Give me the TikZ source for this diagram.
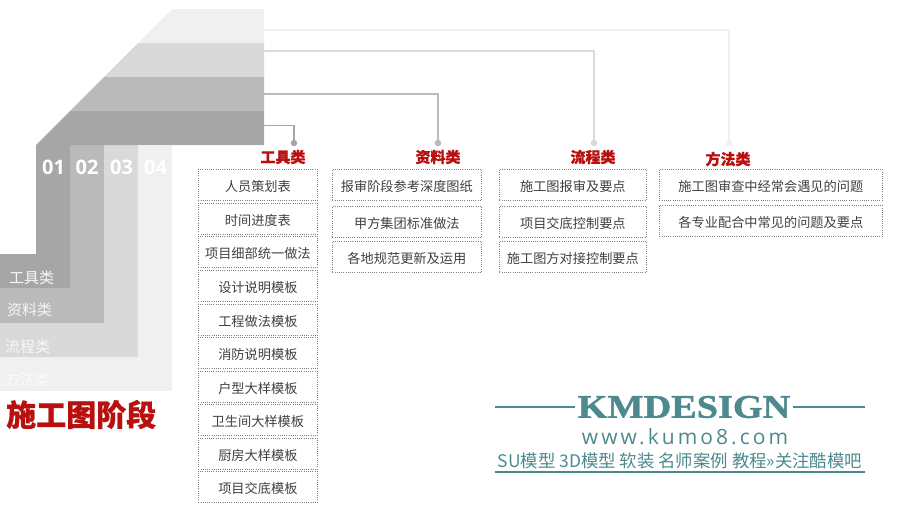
\documentclass[tikz,border=0pt]{standalone}
\usepackage{fontspec}
\setmainfont[BoldFeatures={FakeBold=0.6}]{Noto Sans CJK SC}
\newfontfamily\latinb{Open Sans}
\newfontfamily\copper[BoldFeatures={FakeBold=1.2}]{Liberation Serif}
\newfontfamily\webf[LetterSpace=14.5]{Open Sans}
\definecolor{ba}{HTML}{A6A6A6}
\definecolor{bb}{HTML}{BABABA}
\definecolor{bc}{HTML}{D9D9D9}
\definecolor{bd}{HTML}{F0F0F0}
\definecolor{redt}{HTML}{B80F0F}
\definecolor{teal1}{HTML}{4C8A8E}
\definecolor{txt}{HTML}{404040}
\definecolor{boxl}{HTML}{808080}
\tikzset{
  itembox/.style={draw=boxl,dash pattern=on 1pt off 1.2pt,line width=0.75pt,minimum height=31pt,inner sep=0pt,text height=15pt,text depth=2pt,font=\fontsize{13.2}{13.2}\selectfont,text=txt,anchor=north west},
  narrowb/.style={itembox,minimum width=119pt},
  midb/.style={itembox,minimum width=149pt},
  mid2b/.style={itembox,minimum width=147pt},
  wideb/.style={itembox,minimum width=223pt},
  headt/.style={font=\fontsize{15}{15}\selectfont\bfseries,text=redt,inner sep=0pt},
  numt/.style={font=\fontsize{20}{20}\selectfont\latinb\bfseries,text=white,inner sep=0pt},
  catt/.style={font=\fontsize{15}{15}\selectfont,inner sep=0pt,anchor=west},
  dotn/.style={circle,inner sep=0pt,minimum size=6.5pt},
  linkl/.style={line width=1.7pt}
}
\begin{document}
\begin{tikzpicture}[x=1pt,y=-1pt]
\useasboundingbox (0,0) rectangle (900,506);
% bands
\fill[bc] (138,43) -- (264,43) -- (264,77) -- (104,77) -- cycle;
\fill[bc] (104,145) rectangle (138,357);
\fill[bc] (0,323) rectangle (138,357);
\fill[bb] (104,77) -- (264,77) -- (264,111) -- (70,111) -- cycle;
\fill[bb] (70,145) rectangle (104,323);
\fill[bb] (0,288) rectangle (104,323);
\fill[ba] (70,111) -- (264,111) -- (264,145) -- (36,145) -- cycle;
\fill[ba] (36,145) -- (70,145) -- (70,288) -- (0,288) -- (0,254) -- (36,254) -- cycle;
\fill[bd] (172,9) -- (264,9) -- (264,43) -- (138,43) -- cycle;
\fill[bd] (138,145) rectangle (172,391);
\fill[bd] (0,357) rectangle (172,391);
% numbers
\node[numt] (n1) at (53.5,167) {01};
\node[numt] (n2) at (87,167) {02};
\node[numt] (n3) at (121.5,167) {03};
\node[numt] (n4) at (155.5,167) {04};
% categories
\node[catt,text=white!92!ba] (c1) at (9,278) {工具类};
\node[catt,text=white!85!bb] (c2) at (7,310) {资料类};
\node[catt,text=white!80!bc] (c3) at (5,346.5) {流程类};
\node[catt,text=white!70!bd] (c4) at (5,380) {方法类};
\node[font=\fontsize{30}{30}\selectfont\bfseries,text=redt,inner sep=0pt,anchor=west] (ttl) at (6,414.5) {施工图阶段};
% connector anchors
\coordinate (s1) at (264,125.5);
\coordinate (s2) at (264,94);
\coordinate (s3) at (264,51);
\coordinate (s4) at (264,30);
\node[dotn,fill=ba] (d1) at (294,143) {};
\node[dotn,fill=bb] (d2) at (438,143) {};
\node[dotn,fill=bc] (d3) at (594,143) {};
\node[dotn,fill=bd] (d4) at (729,143) {};
\draw[linkl,bd] (s4) -| (d4.center);
\draw[linkl,bc] (s3) -| (d3.center);
\draw[linkl,bb] (s2) -| (d2.center);
\draw[linkl,ba] (s1) -| (d1.center);
% heads
\node[headt] (h1) at (283,157) {工具类};
\node[headt] (h2) at (438,157) {资料类};
\node[headt] (h3) at (593,157) {流程类};
\node[headt] (h4) at (728,159) {方法类};
% col1
\node[narrowb] (a1) at (198,169) {人员策划表};
\node[narrowb] (a2) at (198,203) {时间进度表};
\node[narrowb] (a3) at (198,236) {项目细部统一做法};
\node[narrowb] (a4) at (198,270) {设计说明模板};
\node[narrowb] (a5) at (198,304) {工程做法模板};
\node[narrowb] (a6) at (198,337) {消防说明模板};
\node[narrowb] (a7) at (198,371) {户型大样模板};
\node[narrowb] (a8) at (198,404) {卫生间大样模板};
\node[narrowb] (a9) at (198,438) {厨房大样模板};
\node[narrowb] (a10) at (198,471) {项目交底模板};
% col2
\node[midb] (b1) at (332,169) {报审阶段参考深度图纸};
\node[midb] (b2) at (332,206) {甲方集团标准做法};
\node[midb] (b3) at (332,241) {各地规范更新及运用};
% col3
\node[mid2b] (e1) at (499,169) {施工图报审及要点};
\node[mid2b] (e2) at (499,206) {项目交底控制要点};
\node[mid2b] (e3) at (499,241) {施工图方对接控制要点};
% col4
\node[wideb] (f1) at (659,169) {施工图审查中经常会遇见的问题};
\node[wideb] (f2) at (659,205) {各专业配合中常见的问题及要点};
% logo
\node[inner ysep=0pt,inner xsep=2.5pt,text=teal1] (km) at (684,407) {\scalebox{1.16}[1]{\fontsize{33}{33}\selectfont\copper\bfseries KMDESIGN}};
\coordinate (l1) at (495,407);
\coordinate (l2) at (865,407);
\draw[teal1,line width=1.2pt] (l1) -- (km.west);
\draw[teal1,line width=1.2pt] (km.east) -- (l2);
\node[inner sep=0pt,text=teal1,font=\fontsize{21}{21}\selectfont\webf] (web) at (685,437) {www.kumo8.com};
\node[inner sep=0pt,text=teal1,font=\fontsize{17.4}{17.4}\selectfont] (sl) at (680,461) {SU模型 3D模型 软装 名师案例 教程»关注酷模吧};
\coordinate (u1) at (495,472);
\coordinate (u2) at (865,472);
\draw[teal1,line width=1.2pt] (u1) -- (u2);
\end{tikzpicture}
\end{document}
